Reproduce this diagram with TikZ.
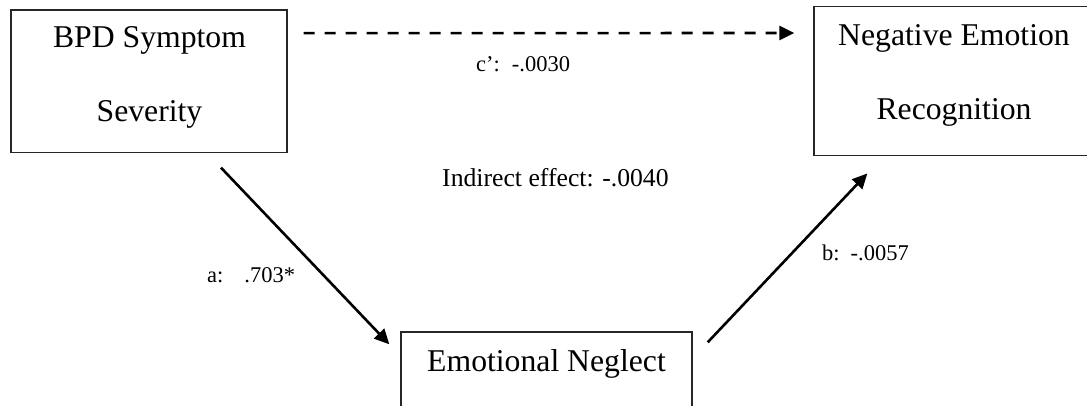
\documentclass[tikz,border=0pt]{standalone}
\usepackage{fontspec}
\setmainfont{Liberation Serif}
\usetikzlibrary{arrows.meta}
\tikzset{
  box/.style={draw=black!85, line width=1.3pt, rectangle, inner sep=0pt},
  boxtext/.style={anchor=base, inner sep=0pt, font=\fontsize{31.7}{38}\selectfont},
  lbl/.style={anchor=base west, inner sep=0pt, font=\fontsize{22.5}{27}\selectfont},
  midlbl/.style={anchor=base west, inner sep=0pt, font=\fontsize{25.7}{30}\selectfont},
  path/.style={line width=2.6pt, -{Triangle[length=15pt,width=14pt]}},
  dpath/.style={path, dash pattern=on 11pt off 10pt}
}
\begin{document}
\begin{tikzpicture}[x=1pt,y=-1pt]
\useasboundingbox (0,0) rectangle (1087,406);
\clip (0,0) rectangle (1087,406);
\fill[white] (0,0) rectangle (1087,406);
% boxes
\node[box, minimum width=276pt, minimum height=142.3pt] (bpd) at (149,81.2) {};
\node[box, minimum width=280pt, minimum height=149pt] (ner) at (954,81.3) {};
\node[box, minimum width=291pt, minimum height=116pt] (en) at (546.5,390) {};
% box texts
\node[boxtext] (bpd1) at (149.5,48) {BPD Symptom};
\node[boxtext] (bpd2) at (149.5,122) {Severity};
\node[boxtext] (ner1) at (954,46) {Negative Emotion};
\node[boxtext] (ner2) at (954,120) {Recognition};
\node[boxtext] (en1) at (546.5,371.7) {Emotional Neglect};
% connectors
\draw[dpath] ([xshift=16pt,yshift=48pt]bpd.east) -- ([xshift=-19pt,yshift=48.3pt]ner.west);
\draw[path] ([xshift=72pt,yshift=-14.7pt]bpd.south) -- ([xshift=-11pt,yshift=-13pt]en.north west);
\draw[path] ([xshift=15pt,yshift=-11pt]en.north east) -- ([xshift=54pt,yshift=-17pt]ner.south west);
% labels
\node[lbl] (lc) at (476,72) {c’:\hspace{12pt}-.0030};
\node[midlbl] (li) at (442,187) {Indirect effect: -.0040};
\node[lbl] (la) at (207,282) {a:\hspace{21pt}.703*};
\node[lbl] (lb) at (822,261) {b:\hspace{11pt}-.0057};
\end{tikzpicture}
\end{document}
